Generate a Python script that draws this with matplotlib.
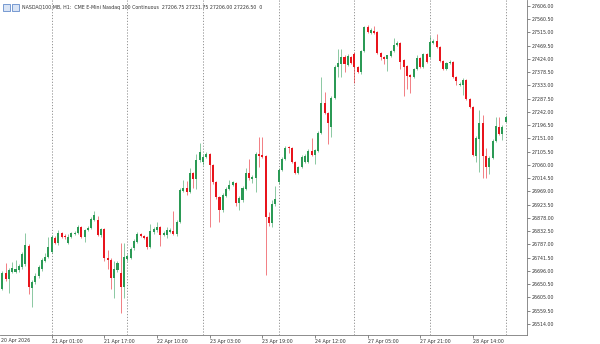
import matplotlib
matplotlib.use('Agg')
import matplotlib.pyplot as plt
from matplotlib.patches import Rectangle
import numpy as np
import pandas as pd

# -----------------------------------------------------------
# NASDAQ100.MB H1 candles
# -----------------------------------------------------------

symbol = 'NASDAQ100.MB, H1:'
description = 'CME E-Mini Nasdaq 100 Continuous'
first_bar = '2026-04-20 08:00'

opens = [26679, 26634, 26689, 26669, 26693, 26693, 26699, 26710, 26720, 26782,
         26638, 26658, 26679, 26703, 26730, 26744, 26761, 26809, 26792, 26826,
         26816, 26792, 26813, 26823, 26826, 26847, 26813, 26837, 26844, 26871,
         26871, 26820, 26840, 26741, 26734, 26672, 26699, 26689, 26641, 26737,
         26741, 26775, 26796, 26823, 26816, 26813, 26778, 26830, 26837, 26847,
         26820, 26820, 26830, 26833, 26823, 26864, 26971, 26981, 26967, 27033,
         27012, 27077, 27070, 27087, 27098, 27060, 27002, 26950, 26906, 26954,
         26978, 26991, 26998, 26930, 26940, 26978, 27033, 27012, 27015, 27098,
         27094, 27091, 26881, 26861, 26926, 27002, 27043, 27081, 27122, 27118,
         27070, 27033, 27053, 27070, 27070, 27108, 27094, 27108, 27170, 27273,
         27239, 27190, 27290, 27397, 27407, 27431, 27403, 27431, 27441, 27397,
         27379, 27451, 27534, 27513, 27520, 27517, 27445, 27431, 27424, 27434,
         27451, 27472, 27479, 27421, 27400, 27369, 27362, 27390, 27427, 27397,
         27441, 27431, 27479, 27486, 27465, 27417, 27390, 27410, 27414, 27362,
         27335, 27335, 27352, 27287, 27259, 27091, 27149, 27204, 27091, 27053,
         27084, 27142, 27190, 27166, 27206.75]

highs = [26689, 26696, 26723, 26706, 26727, 26734, 26720, 26761, 26826, 26789,
         26665, 26689, 26717, 26741, 26758, 26813, 26820, 26816, 26837, 26830,
         26823, 26823, 26830, 26833, 26854, 26851, 26840, 26851, 26881, 26902,
         26885, 26844, 26844, 26768, 26741, 26730, 26730, 26792, 26792, 26754,
         26778, 26806, 26830, 26826, 26820, 26816, 26857, 26847, 26864, 26851,
         26833, 26847, 26844, 26902, 26871, 26981, 27008, 27005, 27050, 27036,
         27098, 27136, 27094, 27105, 27101, 27063, 27005, 26954, 26964, 26984,
         27008, 27005, 27002, 26954, 26988, 27050, 27081, 27026, 27105, 27156,
         27156, 27094, 26899, 26940, 26988, 27050, 27087, 27125, 27125, 27122,
         27074, 27057, 27094, 27098, 27115, 27153, 27115, 27177, 27362, 27311,
         27242, 27297, 27403, 27458, 27458, 27438, 27441, 27434, 27448, 27400,
         27455, 27537, 27541, 27530, 27537, 27520, 27448, 27434, 27438, 27455,
         27496, 27486, 27482, 27424, 27403, 27373, 27393, 27438, 27431, 27445,
         27445, 27503, 27493, 27510, 27469, 27421, 27414, 27421, 27417, 27366,
         27345, 27359, 27355, 27290, 27263, 27160, 27249, 27232, 27118, 27091,
         27149, 27225, 27225, 27197, 27231.75]

lows = [26631, 26631, 26662, 26620, 26689, 26689, 26693, 26703, 26713, 26617,
        26572, 26651, 26672, 26696, 26727, 26741, 26758, 26789, 26785, 26809,
        26806, 26789, 26809, 26820, 26823, 26809, 26796, 26833, 26840, 26868,
        26816, 26813, 26730, 26703, 26634, 26603, 26693, 26552, 26603, 26730,
        26737, 26768, 26792, 26813, 26806, 26772, 26775, 26823, 26830, 26782,
        26816, 26809, 26826, 26820, 26816, 26861, 26967, 26957, 26964, 26981,
        26978, 27070, 27060, 27084, 26847, 26995, 26943, 26864, 26899, 26950,
        26974, 26988, 26919, 26906, 26933, 26974, 27008, 26998, 26967, 27053,
        27084, 26682, 26851, 26847, 26919, 26995, 27039, 27077, 27101, 27067,
        27029, 27029, 27050, 27067, 27067, 27091, 27063, 27105, 27166, 27235,
        27132, 27156, 27287, 27362, 27362, 27379, 27400, 27407, 27342, 27376,
        27373, 27448, 27513, 27510, 27510, 27441, 27421, 27407, 27383, 27431,
        27448, 27469, 27390, 27297, 27321, 27307, 27359, 27386, 27393, 27393,
        27410, 27427, 27475, 27462, 27414, 27386, 27386, 27407, 27359, 27335,
        27331, 27300, 27283, 27256, 27091, 27070, 27036, 27015, 27015, 27029,
        27081, 27139, 27163, 27146, 27206.00]

closes = [26641, 26689, 26669, 26699, 26706, 26703, 26713, 26754, 26785, 26641,
          26658, 26679, 26710, 26734, 26744, 26778, 26813, 26792, 26826, 26813,
          26813, 26813, 26826, 26826, 26847, 26813, 26837, 26844, 26875, 26888,
          26820, 26840, 26741, 26734, 26672, 26703, 26723, 26641, 26744, 26748,
          26772, 26799, 26823, 26816, 26809, 26778, 26833, 26840, 26847, 26820,
          26826, 26837, 26837, 26823, 26864, 26974, 26981, 26967, 27033, 27012,
          27077, 27105, 27087, 27098, 27060, 27002, 26950, 26906, 26957, 26978,
          26991, 27002, 26930, 26947, 26981, 27033, 27015, 27019, 27098, 27091,
          27087, 26881, 26861, 26926, 26943, 27043, 27081, 27118, 27118, 27070,
          27033, 27053, 27087, 27091, 27108, 27094, 27112, 27170, 27273, 27239,
          27204, 27290, 27397, 27410, 27431, 27407, 27434, 27410, 27397, 27379,
          27451, 27534, 27517, 27524, 27513, 27445, 27431, 27424, 27438, 27451,
          27472, 27479, 27414, 27397, 27366, 27362, 27390, 27427, 27397, 27441,
          27414, 27482, 27486, 27465, 27417, 27390, 27410, 27414, 27362, 27348,
          27338, 27352, 27287, 27259, 27094, 27153, 27204, 27091, 27053, 27084,
          27142, 27194, 27166, 27190, 27226.50]

# price scale labels on the right
price_tick_start = 26514.0
price_tick_step = 45.5
price_tick_count = 25

# -----------------------------------------------------------
# prepare
# -----------------------------------------------------------

o = np.array(opens, dtype=float)
h = np.array(highs, dtype=float)
l = np.array(lows, dtype=float)
c = np.array(closes, dtype=float)
n = len(c)
x = np.arange(n)

# hourly bars, no bar at 00:00 (daily break) and no weekend
times = pd.date_range(first_bar, periods=400, freq='h')
times = times[(times.hour != 0) & (times.dayofweek < 5)][:n]

up = c >= o
bull = '#2b9a55'
bear = '#e8141c'
colors = np.where(up, bull, bear)

fig = plt.figure(figsize=(6, 3.44), dpi=100)
ax = fig.add_axes([0, 9 / 344, 527 / 600, 335 / 344])

# day separators (dotted)
for i in x[times.hour == 1]:
    ax.axvline(i, color='#7a7a7a', lw=0.55, ls=(0, (1.6, 2.2)), zorder=0)

# candles
ax.vlines(x, l, h, colors=colors, lw=0.7, alpha=0.55, zorder=1)
body = np.maximum(np.abs(c - o), 2.0)
ax.bar(x, body, bottom=np.minimum(o, c), width=0.62, color=colors,
       edgecolor='none', zorder=2)

ax.set_xlim(0.286, 160.47)
ax.set_ylim(26476.2, 27626.6)

# price axis
price_ticks = price_tick_start + price_tick_step * np.arange(price_tick_count)
ax.yaxis.tick_right()
ax.set_yticks(price_ticks)
ax.set_yticklabels(['%.2f' % p for p in price_ticks])
ax.tick_params(axis='y', length=2.5, width=0.5, pad=1, labelsize=3.4,
               colors='#555555', labelcolor='#333333')

# time axis
lab_idx = np.arange(16, n, 16)
ax.set_xticks(lab_idx)
ax.set_xticklabels([times[i].strftime('%d %b %H:%M') for i in lab_idx],
                   ha='left')
ax.tick_params(axis='x', length=2, width=0.5, pad=1, labelsize=3.4,
               colors='#555555', labelcolor='#333333')
ax.text(0.002, -0.016, times[0].strftime('%d %b %Y'), transform=ax.transAxes,
        fontsize=3.4, color='#333333', ha='left', va='center')

for side in ['top', 'left']:
    ax.spines[side].set_visible(False)
for side in ['right', 'bottom']:
    ax.spines[side].set_color('#7a7a7a')
    ax.spines[side].set_linewidth(0.6)

# header line
header = '%s  %s  %.2f %.2f %.2f %.2f  0' % (symbol, description,
                                             o[-1], h[-1], l[-1], c[-1])
fig.text(22 / 600, 1 - 8 / 344, header, fontsize=3.4, color='#333333',
         ha='left', va='center')
fig.add_artist(Rectangle((3 / 600, 1 - 11 / 344), 7 / 600, 7 / 344,
                         transform=fig.transFigure, facecolor='#d9e4f5',
                         edgecolor='#4a78c2', lw=0.5))
fig.add_artist(Rectangle((12 / 600, 1 - 11 / 344), 7 / 600, 7 / 344,
                         transform=fig.transFigure, facecolor='#d9e4f5',
                         edgecolor='#4a78c2', lw=0.5))

fig.savefig('out.png', dpi=100, facecolor='white')
